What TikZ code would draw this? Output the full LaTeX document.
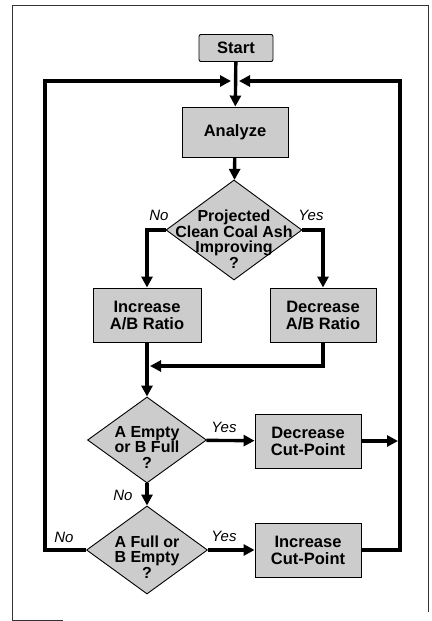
\documentclass[tikz,border=0pt]{standalone}
\usepackage{fontspec}
\setmainfont{Liberation Sans}
\usetikzlibrary{arrows.meta,shapes.geometric}

\tikzset{
  box/.style={draw,line width=0.9pt,fill=black!20,inner sep=0pt,
    font=\fontsize{16.5}{17}\selectfont\bfseries,align=center},
  choice/.style={diamond,draw,line width=0.9pt,fill=black!20,inner sep=0pt},
  choicetext/.style={font=\fontsize{16}{15.5}\selectfont\bfseries,align=center},
  flow/.style={line width=3.4pt,line join=miter,-{Triangle[length=11pt,width=11pt]}},
  answer/.style={font=\fontsize{15}{16}\selectfont\itshape},
}

\begin{document}
\begin{tikzpicture}[x=1pt,y=-1pt]
  \useasboundingbox (0,0) rectangle (431,621);

  % frame
  \draw[line width=0.8pt,black!80] (12,620) -- (12,5) -- (428,5) -- (428,612);
  \draw[line width=0.8pt,black!80] (12,620) -- (63,620);

  % boxes
  \node[box,rounded corners=2pt,minimum width=74pt,minimum height=27pt] (start) at (236,48) {Start};
  \node[box,minimum width=106pt,minimum height=50pt] (analyze) at (235,132) {Analyze};
  \node[box,minimum width=108pt,minimum height=54pt] (incAB) at (147,315) {Increase\\A/B Ratio};
  \node[box,minimum width=106pt,minimum height=54pt] (decAB) at (323,315) {Decrease\\A/B Ratio};
  \node[box,minimum width=106pt,minimum height=54pt] (decCP) at (308,441) {Decrease\\Cut-Point};
  \node[box,minimum width=106pt,minimum height=54pt] (incCP) at (308,550) {Increase\\Cut-Point};

  % decisions
  \node[choice,minimum width=136pt,minimum height=100pt] (ashQ) at (234,230) {};
  \node[choicetext] (ashQtxt) at ([yshift=-9pt]ashQ) {Projected\\Clean Coal Ash\\Improving\\?};
  \node[choice,minimum width=119pt,minimum height=86pt] (emptyQ) at (147,440) {};
  \node[choicetext] (emptyQtxt) at ([yshift=-7pt]emptyQ) {A Empty\\or B Full\\?};
  \node[choice,minimum width=121pt,minimum height=88pt] (fullQ) at (147,550) {};
  \node[choicetext] (fullQtxt) at ([yshift=-7pt]fullQ) {A Full or\\B Empty\\?};

  % loop corners
  \coordinate (top) at (235,81);
  \coordinate (lft) at (45,550);
  \coordinate (rgt) at (400,550);
  \coordinate (mrg) at (147,366);

  % connectors
  \draw[flow] (start) -- (analyze);
  \draw[flow] (analyze) -- (ashQ);
  \draw[flow] (ashQ.west) -| (incAB.north);
  \draw[flow] (ashQ.east) -| (decAB.north);
  \draw[flow] (incAB) -- (emptyQ);
  \draw[flow,shorten >=3pt] (decAB.south) |- (mrg);
  \draw[flow] (emptyQ) -- (decCP);
  \draw[flow,shorten >=2pt] (decCP.east) -- (rgt |- decCP);
  \draw[flow] (emptyQ) -- (fullQ);
  \draw[flow] (fullQ) -- (incCP);
  \draw[flow,shorten >=4pt] (incCP.east) -- (rgt) |- (top);
  \draw[flow,shorten >=4pt] (fullQ.west) -- (lft) |- (top);

  % answers
  \node[answer] (noA) at (159,215) {No};
  \node[answer] (yesA) at (311,215) {Yes};
  \node[answer] (yesB) at (224,427) {Yes};
  \node[answer] (noB) at (123,495) {No};
  \node[answer] (yesC) at (224,536) {Yes};
  \node[answer] (noC) at (64,537) {No};
\end{tikzpicture}
\end{document}
